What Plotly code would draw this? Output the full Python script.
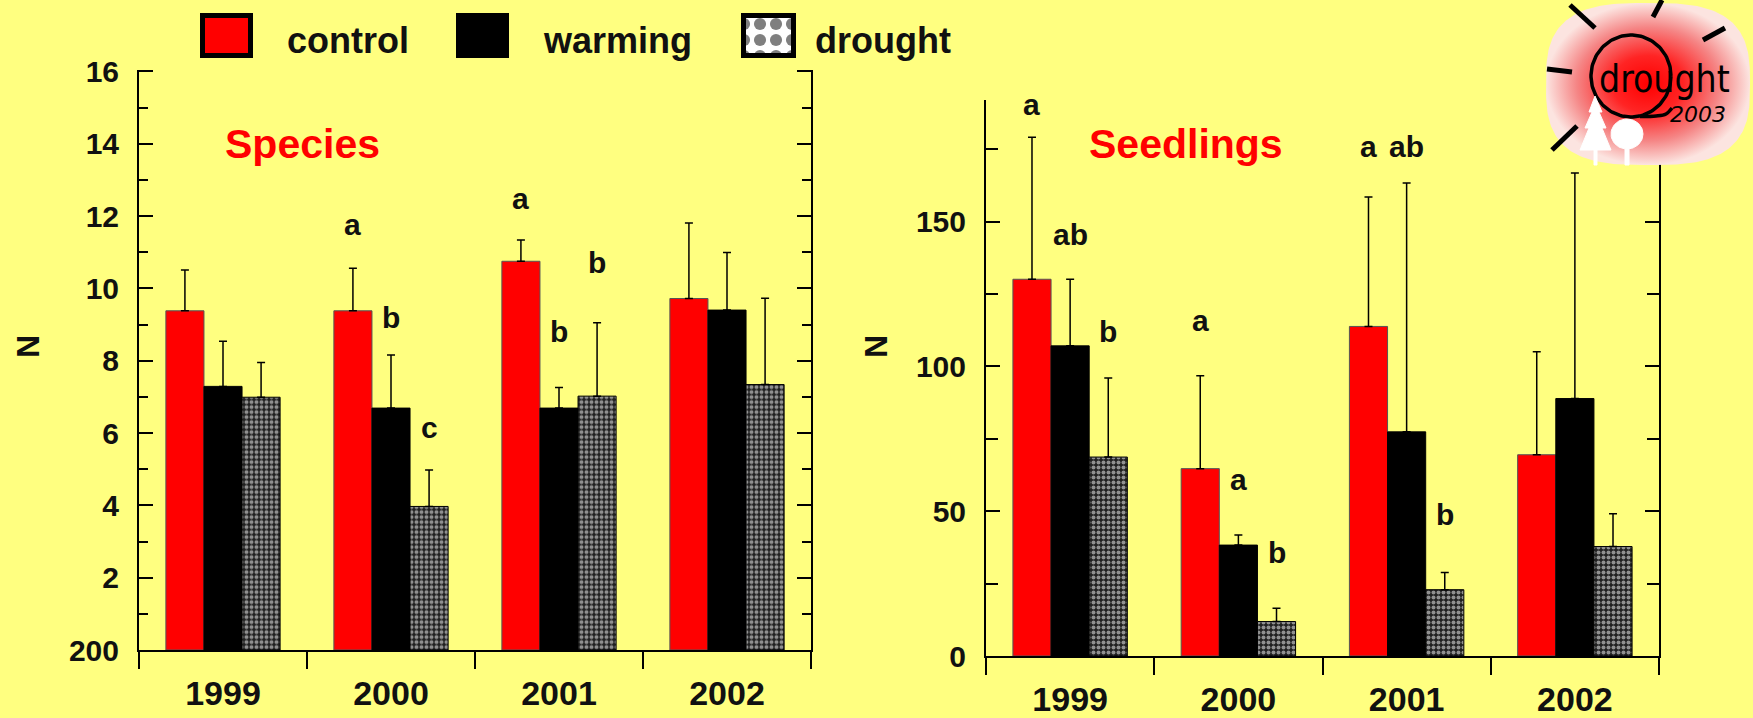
import numpy as np
import plotly.graph_objects as go

# ---------------- data ----------------
years = ["1999", "2000", "2001", "2002"]
series = ["control", "warming", "drought"]

species_control = [9.38, 9.38, 10.75, 9.72]
species_warming = [7.29, 6.69, 6.69, 9.40]
species_drought = [6.99, 3.97, 7.02, 7.34]
species_control_se = [1.13, 1.18, 0.59, 2.09]
species_warming_se = [1.25, 1.47, 0.57, 1.59]
species_drought_se = [0.96, 1.01, 2.03, 2.39]

seedlings_control = [130.1, 64.7, 113.8, 69.5]
seedlings_warming = [107.1, 38.3, 77.4, 88.9]
seedlings_drought = [68.7, 11.9, 22.9, 37.8]
seedlings_control_se = [49.0, 32.1, 44.7, 35.6]
seedlings_warming_se = [23.0, 3.5, 85.9, 77.9]
seedlings_drought_se = [27.3, 4.6, 5.9, 11.3]

species_ticks = [0, 2, 4, 6, 8, 10, 12, 14, 16]
species_ticktext = ["200", "2", "4", "6", "8", "10", "12", "14", "16"]
seedlings_ticks = [0, 50, 100, 150]

species_letters = [("2000", "control", "a"), ("2000", "warming", "b"), ("2000", "drought", "c"),
                   ("2001", "control", "a"), ("2001", "warming", "b"), ("2001", "drought", "b")]
seedlings_letters = [("1999", "control", "a"), ("1999", "warming", "ab"), ("1999", "drought", "b"),
                     ("2000", "control", "a"), ("2000", "warming", "a"), ("2000", "drought", "b"),
                     ("2001", "control", "a"), ("2001", "warming", "ab"), ("2001", "drought", "b")]

# ---------------- layout helpers ----------------
W, H = 1753, 718
BG = "#FFFF80"
FONT = "Liberation Sans, Arial, sans-serif"
INK = "#111111"

# annotation heights (placement only)
species_letter_y = [11.76, 9.2, 6.14, 12.48, 8.82, 10.72]
seedlings_letter_y = [190.6, 145.4, 112.2, 116.0, 60.8, 35.6, 175.8, 175.8, 49.0]


def xd(a, b):
    return [a / W, b / W]


def yd(top, bottom):
    return [1 - bottom / H, 1 - top / H]


BARGAP = 0.32
BW = (1 - BARGAP) / 3
offsets = {"control": -BW, "warming": 0.0, "drought": BW}

styles = {
    "control": dict(color="#FF0000", line=dict(color="#555555", width=1)),
    "warming": dict(color="#000000", line=dict(color="#000000", width=1)),
    "drought": dict(color="#222222", line=dict(color="#000000", width=1),
                    pattern=dict(shape=".", size=5, solidity=0.5,
                                 fgcolor="white", bgcolor="#202020")),
}

fig = go.Figure()

panels = [
    ("x", "y", [species_control, species_warming, species_drought],
     [species_control_se, species_warming_se, species_drought_se]),
    ("x2", "y2", [seedlings_control, seedlings_warming, seedlings_drought],
     [seedlings_control_se, seedlings_warming_se, seedlings_drought_se]),
]
for xa, ya, vals, ses in panels:
    for name, v, se in zip(series, vals, ses):
        fig.add_trace(go.Bar(
            x=years, y=v, name=name, xaxis=xa, yaxis=ya, showlegend=False,
            marker=styles[name],
            error_y=dict(type="data", array=se, arrayminus=[0] * len(se), symmetric=False,
                         color="black", thickness=1.5, width=4),
        ))

# ---------------- pixel overlay (legend swatches + logo) ----------------
legend_boxes = [("control", 226.5, 48, 5), ("warming", 482.5, 53, 0), ("drought", 768.5, 50, 5)]
for name, cx, w, lw in legend_boxes:
    if name == "drought":
        mk = dict(color="white", line=dict(color="black", width=lw),
                  pattern=dict(shape=".", size=16, solidity=0.45, fgcolor="black",
                               bgcolor="white"))
    else:
        mk = dict(color=styles[name]["color"], line=dict(color="black", width=lw))
    top = 13 + lw / 2
    fig.add_trace(go.Bar(x=[cx], y=[45 - lw], base=[top], width=[w], offset=[-w / 2],
                         marker=mk, xaxis="x3", yaxis="y3", showlegend=False,
                         hoverinfo="skip"))

# logo blob with radial gradient
t = np.linspace(0, 2 * np.pi, 200)
n = 3.0
bx = 1648 + 102 * np.sign(np.cos(t)) * np.abs(np.cos(t)) ** (2 / n)
by = 84 + 81 * np.sign(np.sin(t)) * np.abs(np.sin(t)) ** (2 / n)
fig.add_trace(go.Scatter(x=bx, y=by, mode="lines", fill="toself", line=dict(width=0),
                         fillgradient=dict(type="radial",
                                           colorscale=[[0, "#ff0000"], [0.35, "#ff2424"],
                                                       [0.7, "#f58585"], [1, "#fce4e0"]]),
                         xaxis="x3", yaxis="y3", showlegend=False, hoverinfo="skip"))
# circle + swoosh
ct = np.linspace(0, 2 * np.pi, 120)
fig.add_trace(go.Scatter(x=1631 + 40 * np.cos(ct), y=76 + 41 * np.sin(ct), mode="lines",
                         line=dict(color="black", width=3.5), xaxis="x3", yaxis="y3",
                         showlegend=False, hoverinfo="skip"))
fig.add_trace(go.Scatter(x=[1640, 1656, 1666, 1672], y=[116.5, 116, 114, 108], mode="lines",
                         line=dict(color="black", width=3.5, shape="spline"), xaxis="x3", yaxis="y3",
                         showlegend=False, hoverinfo="skip"))
# rays
rays = [((1570, 5), (1595, 28)), ((1653, 17), (1662, 0)), ((1703, 40), (1725, 28)),
        ((1547, 69), (1572, 72)), ((1552, 150), (1577, 126))]
rx, ry = [], []
for (a, b) in rays:
    rx += [a[0], b[0], None]
    ry += [a[1], b[1], None]
fig.add_trace(go.Scatter(x=rx, y=ry, mode="lines", line=dict(color="black", width=5),
                         xaxis="x3", yaxis="y3", showlegend=False, hoverinfo="skip"))
# trees
pine_x = [1595, 1589, 1592, 1585, 1589, 1580, 1594, 1594, 1597, 1597, 1611, 1602, 1606, 1599, 1602, 1595]
pine_y = [96, 112, 112, 128, 128, 150, 150, 165, 165, 150, 150, 128, 128, 112, 112, 96]
fig.add_trace(go.Scatter(x=pine_x, y=pine_y, mode="lines", fill="toself", fillcolor="white",
                         line=dict(color="white", width=1), xaxis="x3", yaxis="y3",
                         showlegend=False, hoverinfo="skip"))
tt = np.linspace(0, 2 * np.pi, 60)
rtx = list(1627 + 16 * np.cos(tt)) + [None, 1625, 1629, 1629, 1625, 1625]
rty = list(134 + 15 * np.sin(tt)) + [None, 140, 140, 165, 165, 140]
fig.add_trace(go.Scatter(x=rtx, y=rty, mode="lines", fill="toself", fillcolor="white",
                         line=dict(color="white", width=1), xaxis="x3", yaxis="y3",
                         showlegend=False, hoverinfo="skip"))

# ---------------- annotations ----------------
ann = []
for (yr, s, txt), yv in zip(species_letters, species_letter_y):
    ann.append(dict(x=years.index(yr) + offsets[s], y=yv, xref="x", yref="y", text=txt,
                    xanchor="center", yanchor="middle", showarrow=False,
                    font=dict(family=FONT, size=30, color=INK, weight="bold")))
for (yr, s, txt), yv in zip(seedlings_letters, seedlings_letter_y):
    ann.append(dict(x=years.index(yr) + offsets[s], y=yv, xref="x2", yref="y2", text=txt,
                    xanchor="center", yanchor="middle", showarrow=False,
                    font=dict(family=FONT, size=30, color=INK, weight="bold")))

ann.append(dict(x=302 / W, y=1 - 144 / H, xref="paper", yref="paper", text="Species",
                xanchor="center", yanchor="middle", showarrow=False,
                font=dict(family=FONT, size=41, color="#FF0000", weight="bold")))
ann.append(dict(x=1186 / W, y=1 - 144 / H, xref="paper", yref="paper", text="Seedlings",
                xanchor="center", yanchor="middle", showarrow=False,
                font=dict(family=FONT, size=41, color="#FF0000", weight="bold")))
for xp in (28, 876):
    ann.append(dict(x=xp / W, y=1 - 347 / H, xref="paper", yref="paper", text="N", textangle=-90,
                    xanchor="center", yanchor="middle", showarrow=False,
                    font=dict(family=FONT, size=32, color=INK, weight="bold")))
for name, xl in zip(series, (285, 541, 813)):
    ann.append(dict(x=xl / W, y=1 - 40 / H, xref="paper", yref="paper", text=name,
                    xanchor="left", yanchor="middle", showarrow=False,
                    font=dict(family=FONT, size=36, color=INK, weight="bold")))
ann.append(dict(x=1664, y=79, xref="x3", yref="y3", text="drought", showarrow=False,
                xanchor="center", yanchor="middle",
                font=dict(family="DejaVu Sans Condensed, Liberation Sans Narrow, DejaVu Sans",
                          size=37, color="black")))
ann.append(dict(x=1698, y=114, xref="x3", yref="y3", text="<i>2003</i>", showarrow=False,
                xanchor="center", yanchor="middle",
                font=dict(family="DejaVu Sans, sans-serif", size=22, color="black")))

# ---------------- axes ----------------
xcommon = dict(type="category", showline=True, linecolor="black", linewidth=2,
               ticks="outside", tickson="boundaries", ticklen=17, tickwidth=1.5, tickcolor="black",
               showgrid=False, zeroline=False, ticklabelstandoff=12, automargin=False,
               tickfont=dict(family=FONT, size=34, color=INK, weight="bold"))
ycommon = dict(showline=True, linecolor="black", linewidth=2, mirror="ticks",
               ticks="inside", ticklen=14, tickwidth=1.5, tickcolor="black",
               showgrid=False, zeroline=False, ticklabelstandoff=12, automargin=False,
               tickfont=dict(family=FONT, size=30, color=INK, weight="bold"))

fig.update_layout(
    width=W, height=H, autosize=False,
    margin=dict(l=0, r=0, t=0, b=0, pad=0, autoexpand=False),
    paper_bgcolor=BG, plot_bgcolor="rgba(0,0,0,0)",
    barmode="group", bargap=BARGAP, bargroupgap=0,
    showlegend=False,
    xaxis=dict(domain=xd(139, 811), anchor="y", **xcommon),
    yaxis=dict(domain=yd(69.6, 650), anchor="x", range=[0, 16.05],
               tickvals=species_ticks, ticktext=species_ticktext,
               minor=dict(dtick=1, ticks="inside", ticklen=9, tickcolor="black", tickwidth=1.5),
               **ycommon),
    xaxis2=dict(domain=xd(986, 1659), anchor="y2", **xcommon),
    yaxis2=dict(domain=yd(100, 656), anchor="x2", range=[0, 192],
                tickvals=seedlings_ticks,
                minor=dict(dtick=25, ticks="inside", ticklen=12, tickcolor="black", tickwidth=1.5),
                **ycommon),
    xaxis3=dict(domain=[0, 1], range=[0, W], visible=False, anchor="y3", fixedrange=True,
                automargin=False),
    yaxis3=dict(domain=[0, 1], range=[H, 0], visible=False, anchor="x3", fixedrange=True,
                automargin=False),
    annotations=ann,
)

fig.write_html("out.html")
